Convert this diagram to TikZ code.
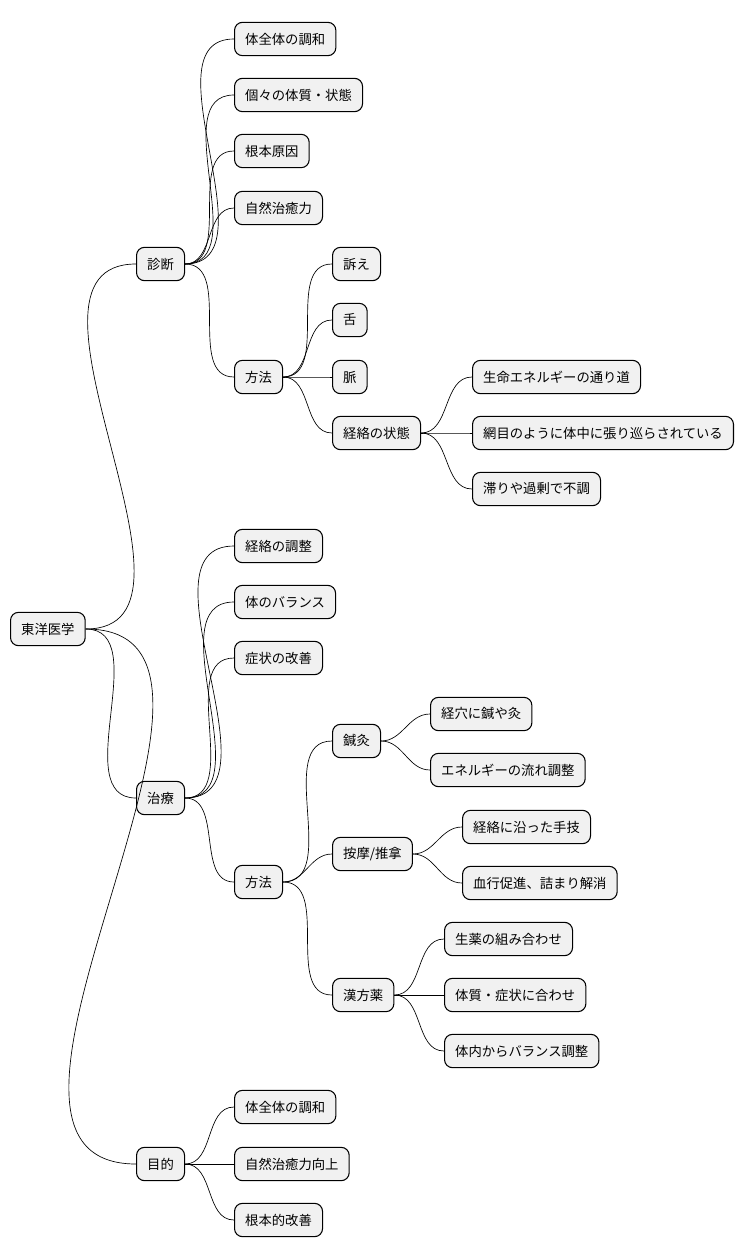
\documentclass[tikz,border=0pt]{standalone}
\usepackage{fontspec}
\setmainfont{Noto Sans CJK JP}
\usetikzlibrary{positioning}
\definecolor{boxfill}{HTML}{F1F1F1}
\tikzset{
  topic/.style={draw, fill=boxfill, rounded corners=6pt, line width=0.8pt,
    minimum height=25pt, inner xsep=8pt, anchor=west, font=\fontsize{10pt}{12pt}\selectfont},
  branch/.style={line width=0.5pt, out=0, in=180}
}
\begin{document}
\begin{tikzpicture}[x=0.75pt,y=-0.75pt]
  \useasboundingbox (0,0) rectangle (754,1259);

  \node[topic] (root) at (10,629) {東洋医学};

  % 診断
  \node[topic] (diag) at (136,264) {診断};
  \node[topic] (d1) at (234,39) {体全体の調和};
  \node[topic] (d2) at (234,95) {個々の体質・状態};
  \node[topic] (d3) at (234,151) {根本原因};
  \node[topic] (d4) at (234,208) {自然治癒力};
  \node[topic] (dm) at (234,377) {方法};
  \node[topic] (dm1) at (332,264) {訴え};
  \node[topic] (dm2) at (332,320) {舌};
  \node[topic] (dm3) at (332,377) {脈};
  \node[topic] (dm4) at (332,433) {経絡の状態};
  \node[topic] (k1) at (472,377) {生命エネルギーの通り道};
  \node[topic] (k2) at (472,433) {網目のように体中に張り巡らされている};
  \node[topic] (k3) at (472,489) {滞りや過剰で不調};

  % 治療
  \node[topic] (treat) at (136,798) {治療};
  \node[topic] (t1) at (234,546) {経絡の調整};
  \node[topic] (t2) at (234,602) {体のバランス};
  \node[topic] (t3) at (234,658) {症状の改善};
  \node[topic] (tm) at (234,882) {方法};
  \node[topic] (acu) at (332,741) {鍼灸};
  \node[topic] (acu1) at (430,714) {経穴に鍼や灸};
  \node[topic] (acu2) at (430,770) {エネルギーの流れ調整};
  \node[topic] (mas) at (332,854) {按摩/推拿};
  \node[topic] (mas1) at (462,827) {経絡に沿った手技};
  \node[topic] (mas2) at (462,883) {血行促進、詰まり解消};
  \node[topic] (herb) at (332,995) {漢方薬};
  \node[topic] (herb1) at (444,939) {生薬の組み合わせ};
  \node[topic] (herb2) at (444,995) {体質・症状に合わせ};
  \node[topic] (herb3) at (444,1051) {体内からバランス調整};

  % 目的
  \node[topic] (goal) at (136,1164) {目的};
  \node[topic] (g1) at (234,1107) {体全体の調和};
  \node[topic] (g2) at (234,1164) {自然治癒力向上};
  \node[topic] (g3) at (234,1220) {根本的改善};

  \foreach \p/\c in {root/diag,root/treat,root/goal,
      diag/d1,diag/d2,diag/d3,diag/d4,diag/dm,
      dm/dm1,dm/dm2,dm/dm3,dm/dm4,dm4/k1,dm4/k2,dm4/k3,
      treat/t1,treat/t2,treat/t3,treat/tm,
      tm/acu,tm/mas,tm/herb,acu/acu1,acu/acu2,mas/mas1,mas/mas2,
      herb/herb1,herb/herb2,herb/herb3,
      goal/g1,goal/g2,goal/g3}{
    \draw[branch] (\p.east) to (\c.west);
  }
\end{tikzpicture}
\end{document}
